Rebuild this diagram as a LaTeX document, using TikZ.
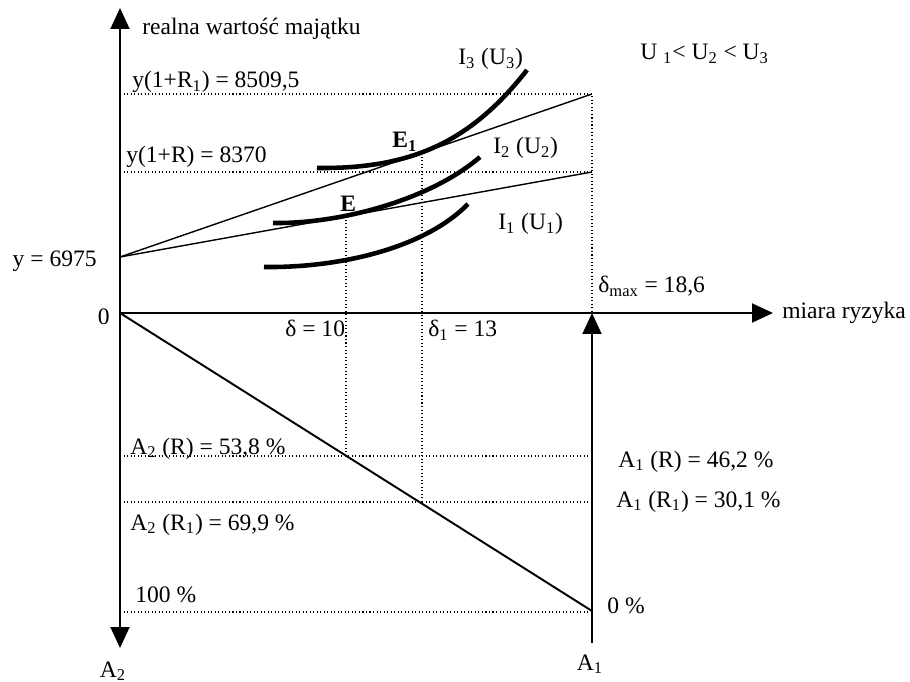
\documentclass[tikz,border=0pt]{standalone}
\usepackage{fontspec}
\setmainfont{Liberation Serif}
\usetikzlibrary{arrows.meta}

\begin{document}
\begin{tikzpicture}[x=0.02cm,y=-0.02cm,>={Triangle[length=0.42cm,width=0.38cm]},
  axis/.style={line width=1.1pt},
  budget/.style={line width=0.8pt},
  guide/.style={line width=0.6pt,dash pattern=on 0.6pt off 1.4pt},
  icurve/.style={line width=2.6pt},
  lbl/.style={font=\fontsize{13.4}{15}\selectfont,inner sep=0pt}]
  \useasboundingbox (0,0) rectangle (910,682);
  % axes
  \coordinate (ytip) at (120,8);
  \coordinate (a2tip) at (120,648);
  \coordinate (O) at (120,313);
  \coordinate (xtip) at (773,313);
  \coordinate (a1bot) at (592,643);
  \coordinate (a1tip) at (592,313);
  % budget lines and share line
  \coordinate (y0) at (120,257);
  \coordinate (b1) at (592,94);
  \coordinate (b2) at (592,172);
  \coordinate (a1zero) at (592,611);
  \coordinate (E) at (346,216);
  \coordinate (E1) at (422,153);
  \coordinate (sR) at (346,456);
  \coordinate (sR1) at (422,502);
  \coordinate (l1) at (120,94);
  \coordinate (l2) at (120,172);
  \coordinate (lR) at (120,456);
  \coordinate (lR1) at (120,502);
  \coordinate (l100) at (120,612);
  \coordinate (rR) at (592,456);
  \coordinate (rR1) at (592,502);
  \coordinate (r100) at (592,612);

  \draw[guide] (l1) -- (b1) -- (a1tip);
  \draw[guide] (l2) -- (b2);
  \draw[guide] (lR) -- (rR);
  \draw[guide] (lR1) -- (rR1);
  \draw[guide] (l100) -- (r100);
  \draw[guide] (E) -- (sR);
  \draw[guide] (E1) -- (sR1);

  \draw[axis,<->] (ytip) -- (a2tip);
  \draw[axis,->] (O) -- (xtip);
  \draw[axis,->] (a1bot) -- (a1tip);
  \draw[axis] (O) -- (a1zero);
  \draw[budget] (y0) -- (b1);
  \draw[budget] (y0) -- (b2);

  % indifference curves
  \draw[icurve] (317,168) .. controls (410,169) and (470,143) .. (527,70);
  \draw[icurve] (273,223) .. controls (340,224) and (430,200) .. (480,157);
  \draw[icurve] (264,267) .. controls (340,268) and (425,248) .. (468,204);

  % labels
  \node[lbl,anchor=base west] (ylab) at (142,35) {realna wartość majątku};
  \node[lbl,anchor=base west] (xlab) at (782,318) {miara ryzyka};
  \node[lbl,anchor=base west] (top1) at (132,88) {y(1+R\textsubscript{1}) = 8509,5};
  \node[lbl,anchor=base west] (top2) at (126,163) {y(1+R) = 8370};
  \node[lbl,anchor=base east] (yval) at (97,267) {y = 6975};
  \node[lbl,anchor=base east] (zero) at (110,325) {0};
  \node[lbl,anchor=base west,font=\fontsize{13.4}{15}\selectfont\bfseries] (Elab) at (340,212) {E};
  \node[lbl,anchor=base west,font=\fontsize{13.4}{15}\selectfont\bfseries] (E1lab) at (392,148) {E\textsubscript{1}};
  \node[lbl,anchor=base west] (i3) at (458,65) {I\textsubscript{3} (U\textsubscript{3})};
  \node[lbl,anchor=base west] (i2) at (493,154) {I\textsubscript{2} (U\textsubscript{2})};
  \node[lbl,anchor=base west] (i1) at (498,230) {I\textsubscript{1} (U\textsubscript{1})};
  \node[lbl,anchor=base west] (order) at (640,60) {U \textsubscript{1}< U\textsubscript{2} < U\textsubscript{3}};
  \node[lbl,anchor=base west] (d10) at (285,337) {δ = 10};
  \node[lbl,anchor=base west] (d13) at (428,337) {δ\textsubscript{1} = 13};
  \node[lbl,anchor=base west] (dmax) at (598,293) {δ\textsubscript{max} = 18,6};
  \node[lbl,anchor=base west] (a2R) at (130,454) {A\textsubscript{2} (R) = 53,8 \%};
  \node[lbl,anchor=base west] (a2R1) at (130,530) {A\textsubscript{2} (R\textsubscript{1}) = 69,9 \%};
  \node[lbl,anchor=base west] (a1R) at (618,467) {A\textsubscript{1} (R) = 46,2 \%};
  \node[lbl,anchor=base west] (a1R1) at (616,507) {A\textsubscript{1} (R\textsubscript{1}) = 30,1 \%};
  \node[lbl,anchor=base west] (p100) at (135,602) {100 \%};
  \node[lbl,anchor=base west] (p0) at (607,613) {0 \%};
  \node[lbl,anchor=base] (a2lab) at (113,677) {A\textsubscript{2}};
  \node[lbl,anchor=base] (a1lab) at (590,670) {A\textsubscript{1}};
\end{tikzpicture}
\end{document}
